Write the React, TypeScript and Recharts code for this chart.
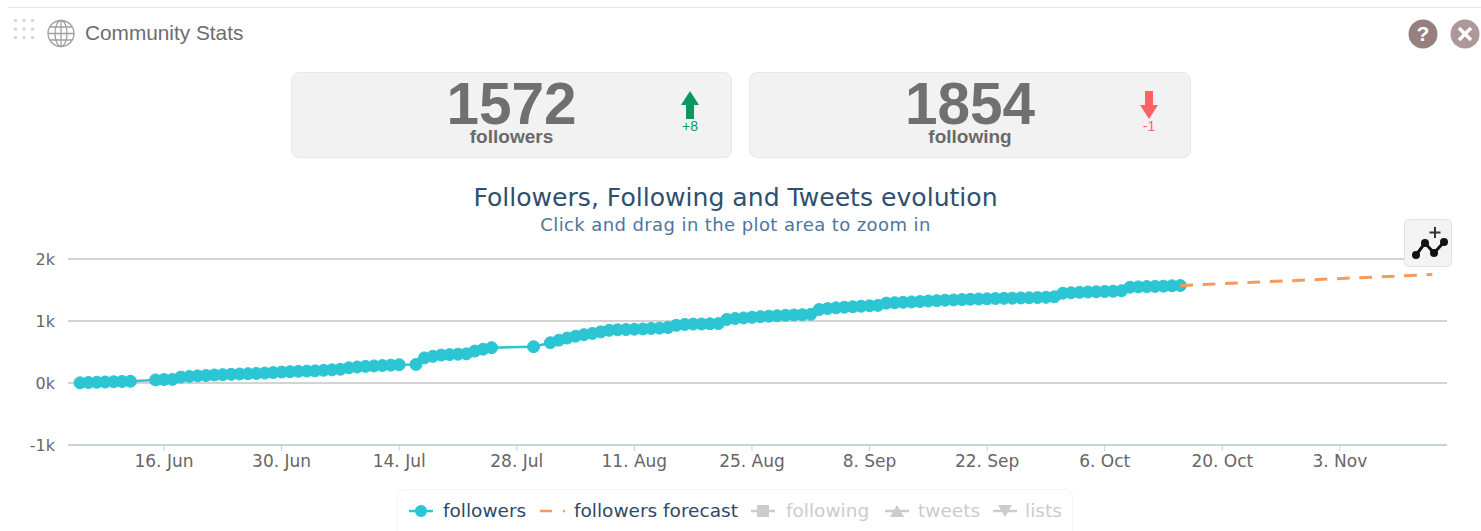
import { CartesianGrid, Line, LineChart, XAxis, YAxis } from "recharts"

// days counted from 16 Jun
const days = [
  -10, -9, -8, -7, -6, -5, -4, -1, 0, 1, 2, 3, 4, 5, 6, 7, 8, 9, 10, 11, 12, 13, 14, 15, 16, 17, 18, 19, 20, 21, 22, 23, 24, 25, 26, 27, 28,
  30, 31, 32, 33, 34, 35, 36, 37, 38, 39, 44, 46, 47, 48, 49, 50, 51, 52, 53, 54, 55, 56, 57, 58, 59, 60, 61, 62, 63, 64, 65, 66, 67, 68, 69,
  70, 71, 72, 73, 74, 75, 76, 77, 78, 79, 80, 81, 82, 83, 84, 85, 86, 87, 88, 89, 90, 91, 92, 93, 94, 95, 96, 97, 98, 99, 100, 101, 102, 103,
  104, 105, 106, 107, 108, 109, 110, 111, 112, 113, 114, 115, 116, 117, 118, 119, 120, 121,
]
const followers = [
  3, 8, 12, 16, 20, 24, 28, 50, 55, 58, 95, 105, 115, 120, 130, 135, 140, 145, 150, 155, 160, 168, 176, 182, 188, 192, 196, 205, 212, 222, 245, 258, 268, 275, 282, 288, 295,
  300, 405, 430, 450, 458, 465, 470, 515, 545, 570, 585, 650, 690, 725, 755, 780, 800, 825, 850, 858, 862, 868, 872, 880, 885, 895, 930, 945, 950, 952, 955, 958, 1025, 1040, 1050,
  1060, 1070, 1078, 1085, 1092, 1098, 1102, 1108, 1185, 1200, 1212, 1222, 1230, 1238, 1245, 1252, 1288, 1295, 1302, 1308, 1314, 1322, 1328, 1335, 1340, 1345, 1350, 1355, 1358, 1362, 1365, 1368, 1372, 1375,
  1378, 1382, 1390, 1448, 1455, 1462, 1468, 1472, 1476, 1480, 1488, 1545, 1550, 1555, 1558, 1562, 1568, 1572,
]
const forecastDays = [121, 151]
const forecast = [1572, 1750]

const xTicks = [0, 14, 28, 42, 56, 70, 84, 98, 112, 126, 140]
const xLabels = ["16. Jun", "30. Jun", "14. Jul", "28. Jul", "11. Aug", "25. Aug", "8. Sep", "22. Sep", "6. Oct", "20. Oct", "3. Nov"]
const yTicks = [-1000, 0, 1000, 2000]

const chartData = [
  ...days.map((day, i) => ({ day, followers: followers[i], forecast: day === forecastDays[0] ? forecast[0] : null })),
  { day: forecastDays[1], followers: null, forecast: forecast[1] },
]

const TEAL = "#2bc5d3"
const ORANGE = "#f79a5b"
const sans = "'Liberation Sans', Arial, sans-serif"
const dejavu = "'DejaVu Sans', Verdana, sans-serif"

function StatCard({ left, width, value, label, delta, up }: { left: number; width: number; value: string; label: string; delta: string; up: boolean }) {
  const color = up ? "#069a62" : "#ff6262"
  const arrowLeft = width - 43
  return (
    <div style={{ position: "absolute", left, top: 72, width, height: 86, boxSizing: "border-box", background: "#f2f2f2", border: "1px solid #e8e8e8", borderRadius: 8 }}>
      <div style={{ position: "absolute", left: 0, right: 0, top: 7, textAlign: "center", fontFamily: sans, fontWeight: 700, fontSize: 58.5, lineHeight: "48px", color: "#707070" }}>{value}</div>
      <div style={{ position: "absolute", left: 0, right: 0, top: 55, textAlign: "center", fontFamily: sans, fontWeight: 700, fontSize: 19, lineHeight: "18px", color: "#6a6a6a" }}>{label}</div>
      <svg style={{ position: "absolute", left: arrowLeft - 10, top: 17 }} width="20" height="30">
        <path d={up ? "M10 1 L19 15 L14 15 L14 29 L6 29 L6 15 L1 15 Z" : "M6 1 L14 1 L14 15 L19 15 L10 29 L1 15 L6 15 Z"} fill={color} />
      </svg>
      <div style={{ position: "absolute", left: arrowLeft - 20, width: 40, top: 45, textAlign: "center", fontFamily: sans, fontSize: 14, lineHeight: "16px", color }}>{delta}</div>
    </div>
  )
}

function Header() {
  const dots = []
  for (let r = 0; r < 3; r++) {
    for (let c = 0; c < 3; c++) {
      dots.push(<circle key={`${r}-${c}`} cx={2.5 + c * 8.5} cy={2.5 + r * 8.5} r={1.8} fill="#d8d8d8" />)
    }
  }
  return (
    <>
      <div style={{ position: "absolute", left: 8, right: 0, top: 7, height: 1, background: "#e6e6e6" }} />
      <svg style={{ position: "absolute", left: 13, top: 18 }} width="24" height="24">{dots}</svg>
      <svg style={{ position: "absolute", left: 46, top: 19 }} width="30" height="30" fill="none" stroke="#a0a0a0" strokeWidth="1.3">
        <circle cx="15" cy="14.5" r="13" />
        <ellipse cx="15" cy="14.5" rx="6" ry="13" />
        <path d="M15 1.5 V27.5 M2 14.5 H28 M4 8 H26 M4 21 H26" />
      </svg>
      <div style={{ position: "absolute", left: 85, top: 21, fontFamily: sans, fontSize: 20.8, lineHeight: "24px", color: "#6c6c6c" }}>Community Stats</div>
      <svg style={{ position: "absolute", left: 1408, top: 19 }} width="73" height="30">
        <circle cx="15" cy="15" r="14.5" fill="#967f7f" />
        <text x="15" y="22" textAnchor="middle" fontFamily={sans} fontWeight="700" fontSize="21" fill="#fff">?</text>
        <circle cx="57" cy="15" r="14.5" fill="#ac9898" />
        <path d="M51 9 L63 21 M63 9 L51 21" stroke="#fff" strokeWidth="3.5" />
      </svg>
    </>
  )
}

function ZoomButton() {
  return (
    <svg style={{ position: "absolute", left: 1404, top: 219 }} width="48" height="48">
      <rect x="0.5" y="0.5" width="47" height="47" rx="4" fill="#f3f3f3" stroke="#e2e2e2" />
      <path d="M12 36 L21 24 L30 34 L40 23" fill="none" stroke="#111" strokeWidth="3" />
      <circle cx="12" cy="36" r="4" fill="#111" />
      <circle cx="21" cy="24" r="4" fill="#111" />
      <circle cx="30" cy="34" r="4" fill="#111" />
      <circle cx="40" cy="23" r="4" fill="#111" />
      <path d="M31 8 V19 M25.500 13.500 H36.500" stroke="#333" strokeWidth="2" />
    </svg>
  )
}

function LegendRow() {
  const grey = "#cccccc"
  const item = (left: number, text: string, color: string) => (
    <span style={{ position: "absolute", left, top: 0, fontFamily: dejavu, fontSize: 18.5, lineHeight: "22px", color, whiteSpace: "nowrap" }}>{text}</span>
  )
  return (
    <div style={{ position: "absolute", left: 0, top: 500, width: 1481, height: 22 }}>
      <div style={{ position: "absolute", left: 397, top: -11, width: 676, height: 60, boxSizing: "border-box", border: "1px solid #f4f4f4", borderRadius: 8 }} />
      <svg style={{ position: "absolute", left: 0, top: 0 }} width="1481" height="22">
        <path d="M409 11 H433" stroke={TEAL} strokeWidth="2.5" />
        <circle cx="421" cy="11" r="6" fill={TEAL} />
        <path d="M540 11 H552" stroke={ORANGE} strokeWidth="2.5" />
        <path d="M563 11 H565" stroke={ORANGE} strokeWidth="2.5" />
        <path d="M751 11 H775" stroke={grey} strokeWidth="2.5" />
        <rect x="757" y="5" width="12" height="12" fill={grey} />
        <path d="M885 11 H909" stroke={grey} strokeWidth="2.5" />
        <path d="M897 5 L904 17 H890 Z" fill={grey} />
        <path d="M993 11 H1017" stroke={grey} strokeWidth="2.5" />
        <path d="M998 5 H1012 L1005 17 Z" fill={grey} />
      </svg>
      {item(443, "followers", "#2c4a68")}
      {item(574, "followers forecast", "#2c4a68")}
      {item(786, "following", grey)}
      {item(918, "tweets", grey)}
      {item(1025, "lists", grey)}
    </div>
  )
}

export default function App() {
  return (
    <div style={{ position: "absolute", left: 0, top: 0, width: 1481, height: 531, overflow: "hidden", background: "#fff" }}>
      <LineChart
        width={1481}
        height={531}
        data={chartData}
        margin={{ top: 259, right: 34, bottom: 46, left: 8 }}
        style={{ position: "absolute", left: 0, top: 0 }}
      >
        <CartesianGrid horizontal vertical={false} stroke="#c4c4c4" strokeWidth={1.5} />
        <XAxis
          dataKey="day"
          type="number"
          domain={[-11.43, 152.75]}
          allowDataOverflow
          ticks={xTicks}
          tickFormatter={(v: number) => xLabels[xTicks.indexOf(v)]}
          height={40}
          interval={0}
          stroke="#c0d0e0"
          tickSize={6}
          tickMargin={4}
          tick={{ fill: "#666", fontFamily: dejavu, fontSize: 17 }}
        />
        <YAxis
          type="number"
          domain={[-1000, 2000]}
          ticks={yTicks}
          tickFormatter={(v: number) => `${v / 1000}k`}
          width={60}
          axisLine={false}
          tickLine={false}
          tickMargin={7}
          tick={{ fill: "#666", fontFamily: dejavu, fontSize: 16 }}
        />
        <Line
          dataKey="followers"
          stroke={TEAL}
          strokeWidth={2.5}
          dot={{ r: 6, fill: TEAL, stroke: TEAL, strokeWidth: 1 }}
          isAnimationActive={false}
        />
        <Line
          dataKey="forecast"
          stroke={ORANGE}
          strokeWidth={3}
          strokeDasharray="12.7 9.7"
          dot={false}
          connectNulls
          zIndex={700}
          isAnimationActive={false}
        />
      </LineChart>

      <Header />
      <StatCard left={291} width={441} value="1572" label="followers" delta="+8" up />
      <StatCard left={749} width={442} value="1854" label="following" delta="-1" up={false} />

      <div style={{ position: "absolute", left: 0, width: 1471, top: 183, textAlign: "center", fontFamily: dejavu, fontSize: 25.1, lineHeight: "30px", color: "#2f4f6f" }}>
        Followers, Following and Tweets evolution
      </div>
      <div style={{ position: "absolute", left: 0, width: 1471, top: 214, textAlign: "center", fontFamily: dejavu, fontSize: 18, lineHeight: "22px", letterSpacing: 0.4, color: "#4d759e" }}>
        Click and drag in the plot area to zoom in
      </div>

      <ZoomButton />
      <LegendRow />
    </div>
  )
}
